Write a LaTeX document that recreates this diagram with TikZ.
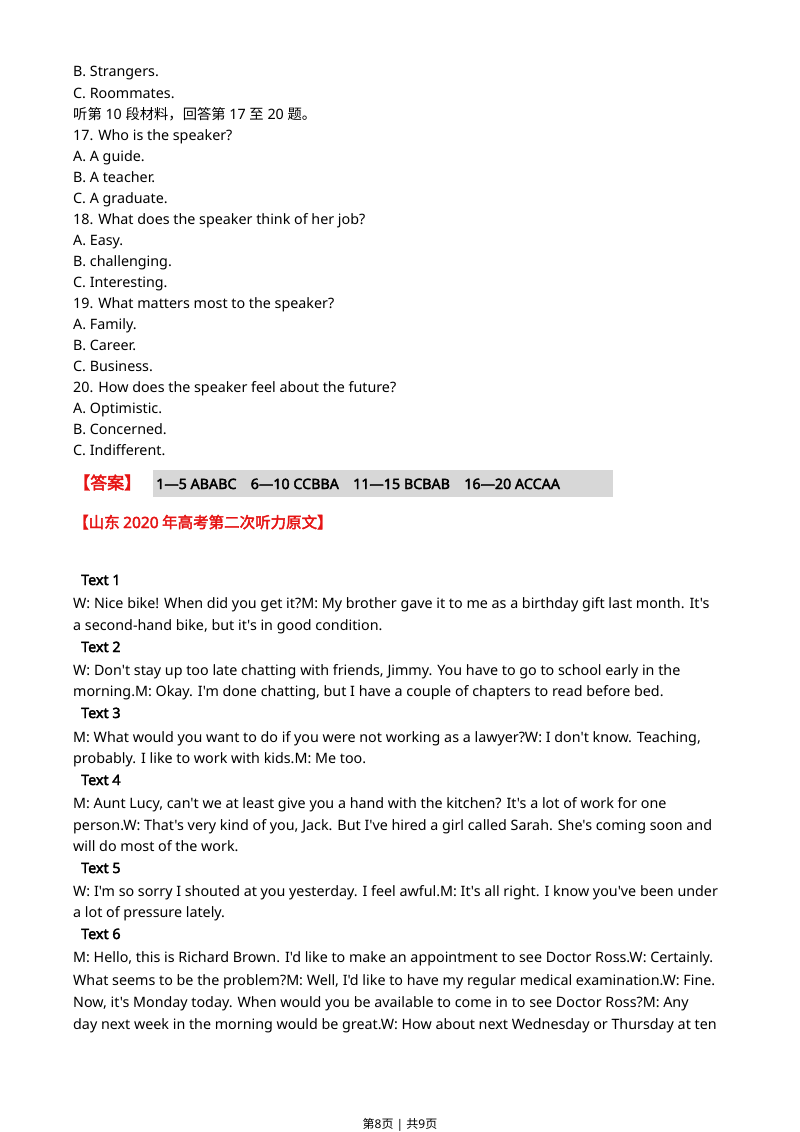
\documentclass[tikz,border=0pt]{standalone}
\usepackage{fontspec}
\setmainfont{Noto Sans}[Ligatures=TeXOff,AutoFakeBold=2.5]
\newfontfamily\cjk{Noto Sans CJK SC}[AutoFakeBold=2.5]
\definecolor{ansred}{RGB}{230,20,20}
\definecolor{graybg}{RGB}{215,215,215}
\begin{document}
\begin{tikzpicture}[x=1pt,y=-1pt,
  t/.style={anchor=base west,inner sep=0pt,font=\fontsize{14.3}{17}\selectfont},
  h/.style={t,font=\fontsize{14.3}{17}\selectfont\bfseries}]
\useasboundingbox (0,0) rectangle (800,1132);
\fill[white] (0,0) rectangle (800,1132);
\node[t] (l1) at (73,77) {B. Strangers.};
\node[t] (l2) at (73,98) {C. Roommates.};
\node[t] (l3) at (73,119) {{\cjk 听第} 10 {\cjk 段材料，回答第} 17 {\cjk 至} 20 {\cjk 题。}};
\node[t] (l4) at (73,140) {17. Who is the speaker?};
\node[t] (l5) at (73,161) {A. A guide.};
\node[t] (l6) at (73,182) {B. A teacher.};
\node[t] (l7) at (73,203) {C. A graduate.};
\node[t] (l8) at (73,224) {18. What does the speaker think of her job?};
\node[t] (l9) at (73,245) {A. Easy.};
\node[t] (l10) at (73,266) {B. challenging.};
\node[t] (l11) at (73,287) {C. Interesting.};
\node[t] (l12) at (73,308) {19. What matters most to the speaker?};
\node[t] (l13) at (73,329) {A. Family.};
\node[t] (l14) at (73,350) {B. Career.};
\node[t] (l15) at (73,371) {C. Business.};
\node[t] (l16) at (73,392) {20. How does the speaker feel about the future?};
\node[t] (l17) at (73,413) {A. Optimistic.};
\node[t] (l18) at (73,434) {B. Concerned.};
\node[t] (l19) at (73,455) {C. Indifferent.};
\fill[graybg] (153,470) rectangle (613,497);
\node[anchor=base west,inner sep=0pt,text=ansred,font=\cjk\fontsize{17}{20}\selectfont\bfseries] (ans) at (73,489) {【答案】};
\node[h] (key) at (156,489) {1—5 ABABC\quad 6—10 CCBBA\quad 11—15 BCBAB\quad 16—20 ACCAA};
\node[anchor=base west,inner sep=0pt,text=ansred,font=\fontsize{15.5}{18}\selectfont\bfseries] (ttl) at (73,528) {{\cjk\bfseries 【山东 }2020{\cjk\bfseries\ 年高考第二次听力原文】}};
\node[h] (t1) at (81,585) {Text 1};
\node[t] (a1) at (73,608) {W: Nice bike! When did you get it?M: My brother gave it to me as a birthday gift last month. It's};
\node[t] (a2) at (73,630) {a second-hand bike, but it's in good condition.};
\node[h] (t2) at (81,652) {Text 2};
\node[t] (b1) at (73,675) {W: Don't stay up too late chatting with friends, Jimmy. You have to go to school early in the};
\node[t] (b2) at (73,696) {morning.M: Okay. I'm done chatting, but I have a couple of chapters to read before bed.};
\node[h] (t3) at (81,718) {Text 3};
\node[t] (c1) at (73,742) {M: What would you want to do if you were not working as a lawyer?W: I don't know. Teaching,};
\node[t] (c2) at (73,763) {probably. I like to work with kids.M: Me too.};
\node[h] (t4) at (81,785) {Text 4};
\node[t] (d1) at (73,808) {M: Aunt Lucy, can't we at least give you a hand with the kitchen? It's a lot of work for one};
\node[t] (d2) at (73,830) {person.W: That's very kind of you, Jack. But I've hired a girl called Sarah. She's coming soon and};
\node[t] (d3) at (73,851) {will do most of the work.};
\node[h] (t5) at (81,873) {Text 5};
\node[t] (e1) at (73,896) {W: I'm so sorry I shouted at you yesterday. I feel awful.M: It's all right. I know you've been under};
\node[t] (e2) at (73,917) {a lot of pressure lately.};
\node[h] (t6) at (81,939) {Text 6};
\node[t] (f1) at (73,962) {M: Hello, this is Richard Brown. I'd like to make an appointment to see Doctor Ross.W: Certainly.};
\node[t] (f2) at (73,985) {What seems to be the problem?M: Well, I'd like to have my regular medical examination.W: Fine.};
\node[t] (f3) at (73,1007) {Now, it's Monday today. When would you be available to come in to see Doctor Ross?M: Any};
\node[t] (f4) at (73,1029) {day next week in the morning would be great.W: How about next Wednesday or Thursday at ten};
\node[anchor=base,inner sep=0pt,font=\fontsize{12}{14}\selectfont] (ft) at (400,1128) {{\cjk 第}8{\cjk 页} | {\cjk 共}9{\cjk 页}};
\end{tikzpicture}
\end{document}
